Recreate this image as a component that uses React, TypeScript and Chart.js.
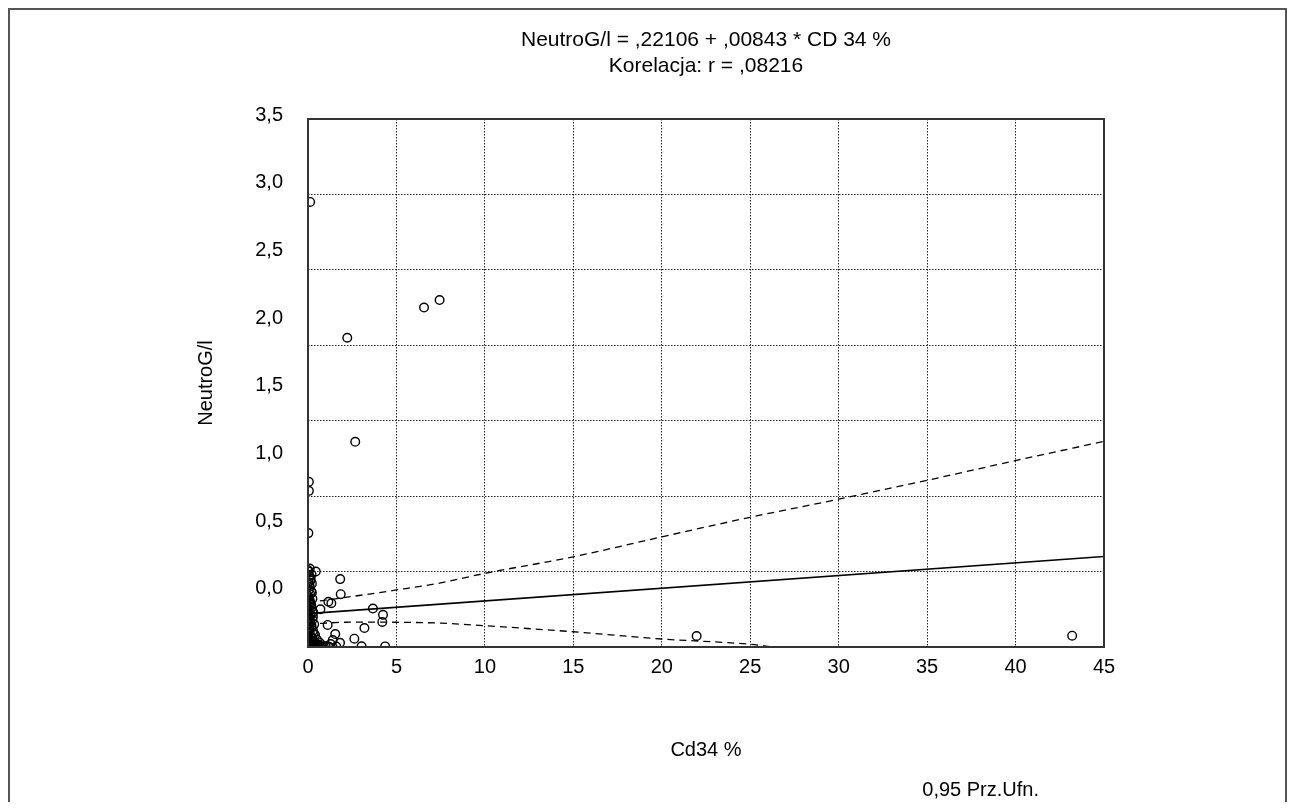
import React, { useEffect, useRef } from 'react';
import { Chart, registerables } from 'chart.js';

Chart.register(...registerables);

const titleLines = ['NeutroG/l = ,22106 + ,00843 * CD 34 %', 'Korelacja: r = ,08216'];
const xTitle = 'Cd34 %';
const yTitle = 'NeutroG/l';
const bandLabel = '0,95 Prz.Ufn.';

const xTicks = [0, 5, 10, 15, 20, 25, 30, 35, 40, 45];
const yTicks = [0, 0.5, 1.0, 1.5, 2.0, 2.5, 3.0, 3.5];

// observed points (Cd34 %, NeutroG/l)
const pointsX = [
  0.12, 2.22, 6.56, 7.44, 2.67, 0.05, 0.05, 0.02, 0.44, 1.82, 1.85, 1.15, 1.32, 0.7, 3.67, 4.24, 4.2, 1.11,
  3.19, 1.54, 2.62, 1.4, 1.81, 1.28, 3.03, 4.36, 21.97, 43.2,
  0.1, 0.05, 0.2, 0.08, 0.15, 0.03, 0.22, 0.1, 0.05, 0.18, 0.12, 0.02, 0.25, 0.08, 0.15, 0.05, 0.2, 0.1,
  0.3, 0.03, 0.15, 0.08, 0.25, 0.12, 0.04, 0.35, 0.18, 0.06, 0.28, 0.1, 0.02, 0.4, 0.15, 0.25, 0.05, 0.5,
  0.12, 0.35, 0.65, 0.2, 0.08, 0.45, 0.8, 0.3, 0.02, 0.6, 1.0, 0.15, 0.4, 0.9, 1.6, 0.7,
  0.0, 0.14, 0.06, 0.22, 0.0, 0.1, 0.18, 0.04, 0.28, 0.0, 0.12, 0.2, 0.07, 0.32, 0.0, 0.16, 0.24, 0.1,
  0.38, 0.55, 0.05, 0.2, 0.75, 1.2, 0.3, 0.0,
];
const pointsY = [
  2.95, 2.05, 2.25, 2.3, 1.36, 1.095, 1.035, 0.755, 0.5, 0.45, 0.35, 0.3, 0.29, 0.25, 0.255, 0.213, 0.166, 0.146,
  0.126, 0.086, 0.055, 0.046, 0.028, 0.02, 0.005, 0.004, 0.073, 0.075,
  0.52, 0.5, 0.48, 0.47, 0.45, 0.43, 0.42, 0.4, 0.38, 0.37, 0.35, 0.33, 0.32, 0.3, 0.29, 0.27, 0.26, 0.24,
  0.23, 0.22, 0.21, 0.19, 0.18, 0.17, 0.15, 0.15, 0.13, 0.12, 0.11, 0.1, 0.09, 0.08, 0.07, 0.06, 0.05, 0.05,
  0.04, 0.035, 0.03, 0.025, 0.02, 0.015, 0.012, 0.01, 0.008, 0.006, 0.005, 0.004, 0.002, 0.002, 0.003, 0.0,
  0.51, 0.44, 0.41, 0.36, 0.34, 0.31, 0.28, 0.25, 0.2, 0.18, 0.16, 0.14, 0.13, 0.09, 0.07, 0.065, 0.04, 0.03,
  0.02, 0.018, 0.012, 0.008, 0.004, 0.001, 0.001, 0.0,
];

// regression line
const fitX = [0, 45];
const fitY = [0.221, 0.6];

// 0.95 confidence bands
const upperX = [0, 2.5, 5, 7.5, 10, 15, 20, 25, 30, 35, 40, 45];
const upperY = [0.295, 0.335, 0.378, 0.425, 0.488, 0.598, 0.73, 0.86, 0.98, 1.105, 1.236, 1.363];
const lowerX = [0, 2.5, 5, 7.5, 10, 15, 20, 25, 26.3];
const lowerY = [0.152, 0.165, 0.164, 0.158, 0.141, 0.101, 0.053, 0.018, 0];

const FONT = "'Liberation Sans', Arial, Helvetica, sans-serif";

const zip = (xs: number[], ys: number[]) => xs.map((x, i) => ({ x, y: ys[i] }));

const framePlugin = {
  id: 'frameAndNote',
  afterDraw(chart: any) {
    const { ctx, chartArea } = chart;
    const { left, top, right, bottom } = chartArea;
    ctx.save();
    ctx.strokeStyle = '#333';
    ctx.lineWidth = 2;
    ctx.strokeRect(left, top, right - left, bottom - top);
    ctx.fillStyle = '#000';
    ctx.font = `20px ${FONT}`;
    ctx.textAlign = 'center';
    ctx.textBaseline = 'middle';
    ctx.fillText(bandLabel, left + (right - left) * 0.845, chart.height - 12);
    ctx.restore();
  },
};

export default function App() {
  const canvasRef = useRef<HTMLCanvasElement | null>(null);

  useEffect(() => {
    if (!canvasRef.current) return;
    Chart.defaults.font.family = FONT;
    Chart.defaults.color = '#000';
    const gridCommon = {
      color: '#222',
      lineWidth: 1,
      drawTicks: false,
    };
    const chart = new Chart(canvasRef.current, {
      type: 'scatter',
      data: {
        datasets: [
          {
            label: 'NeutroG/l',
            data: zip(pointsX, pointsY),
            showLine: false,
            pointStyle: 'circle',
            pointRadius: 4.3,
            pointBorderWidth: 1.4,
            pointBackgroundColor: 'rgba(0,0,0,0)',
            pointBorderColor: '#000',
          },
          {
            label: 'fit',
            data: zip(fitX, fitY),
            showLine: true,
            borderColor: '#000',
            borderWidth: 1.6,
            pointRadius: 0,
          },
          {
            label: bandLabel,
            data: zip(upperX, upperY),
            showLine: true,
            borderColor: '#000',
            borderWidth: 1.3,
            borderDash: [7, 5],
            cubicInterpolationMode: 'monotone',
            pointRadius: 0,
          },
          {
            label: bandLabel + ' low',
            data: zip(lowerX, lowerY),
            showLine: true,
            borderColor: '#000',
            borderWidth: 1.3,
            borderDash: [7, 5],
            cubicInterpolationMode: 'monotone',
            pointRadius: 0,
          },
        ],
      },
      options: {
        animation: false,
        responsive: true,
        maintainAspectRatio: false,
        layout: { padding: { left: 184, right: 181, top: 0, bottom: 40 } },
        plugins: {
          legend: { display: false },
          tooltip: { enabled: false },
          title: {
            display: true,
            text: titleLines,
            fullSize: false,
            color: '#000',
            font: { size: 21, weight: 'normal', lineHeight: 1.2 },
            padding: { top: 18, bottom: 40.6 },
          },
        },
        scales: {
          x: {
            type: 'linear',
            position: 'bottom',
            min: 0,
            max: 45,
            afterBuildTicks: (axis: any) => {
              axis.ticks = xTicks.map((v) => ({ value: v }));
            },
            afterFit: (axis: any) => {
              axis.height = 115;
            },
            ticks: {
              color: '#000',
              font: { size: 20 },
              padding: 8,
              maxRotation: 0,
              callback: (v: any) => String(v),
            },
            grid: gridCommon,
            border: { display: false, dash: [1.5, 1.5] },
            title: {
              display: true,
              text: xTitle,
              color: '#000',
              font: { size: 20 },
              padding: 0,
            },
          },
          y: {
            type: 'linear',
            position: 'left',
            min: 0,
            max: 3.5,
            afterBuildTicks: (axis: any) => {
              axis.ticks = yTicks.map((v) => ({ value: v }));
            },
            afterFit: (axis: any) => {
              axis.width = 0;
            },
            ticks: { display: false },
            grid: gridCommon,
            border: { display: false, dash: [1.5, 1.5] },
            title: { display: false },
          },
          yLabels: {
            type: 'linear',
            position: 'left',
            min: -0.4,
            max: 3.5,
            afterBuildTicks: (axis: any) => {
              axis.ticks = yTicks.map((v) => ({ value: v }));
            },
            afterFit: (axis: any) => {
              axis.width = 114;
            },
            ticks: {
              color: '#000',
              font: { size: 20 },
              padding: 25,
              labelOffset: -4,
              callback: (v: any) => Number(v).toFixed(1).replace('.', ','),
            },
            grid: { display: false, drawTicks: false },
            border: { display: false },
            title: {
              display: true,
              text: yTitle,
              color: '#000',
              font: { size: 20 },
              padding: 0,
            },
          },
        },
      } as any,
      plugins: [framePlugin],
    });
    return () => chart.destroy();
  }, []);

  return (
    <div
      style={{
        width: 1279,
        height: 794,
        boxSizing: 'border-box',
        borderTop: '2px solid #555',
        borderLeft: '2px solid #555',
        borderRight: '2px solid #555',
        background: '#fff',
      }}
    >
      <div style={{ position: 'relative', width: 1275, height: 792 }}>
        <canvas ref={canvasRef} />
      </div>
    </div>
  );
}
